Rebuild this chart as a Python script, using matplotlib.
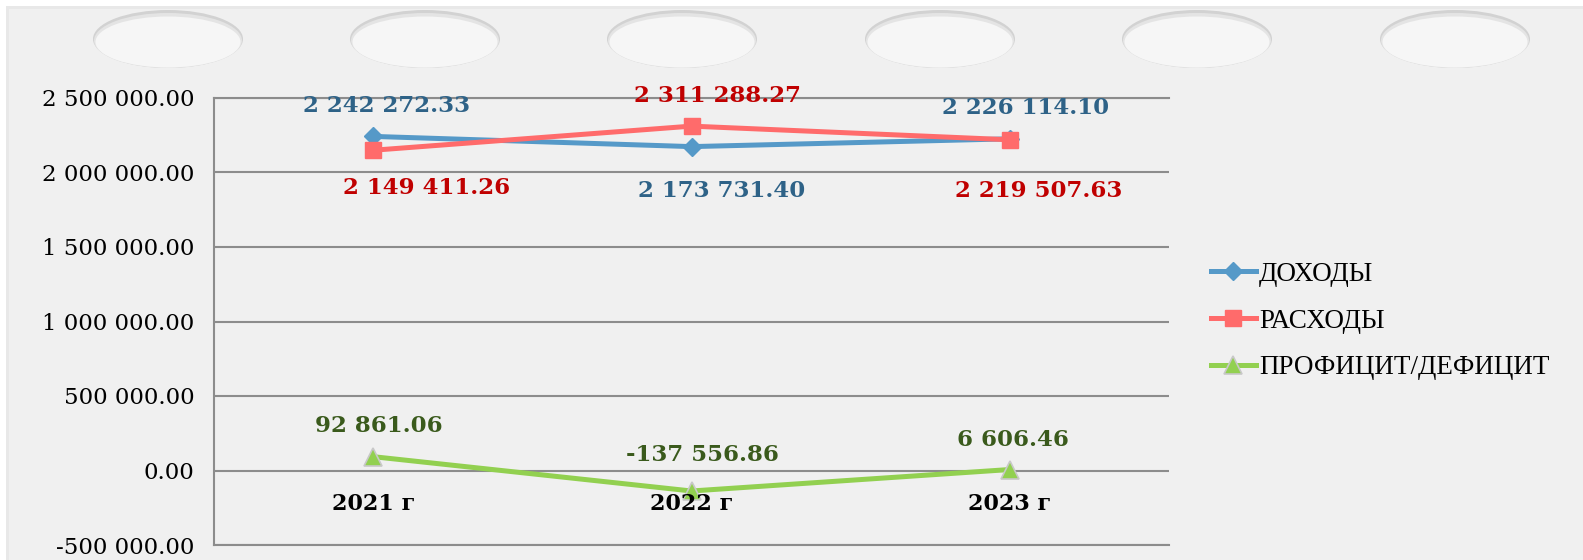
import matplotlib
matplotlib.use("Agg")
import matplotlib.pyplot as plt
from matplotlib.patches import Ellipse, Rectangle
from matplotlib.ticker import FuncFormatter, MultipleLocator

# data
years = ["2021 г", "2022 г", "2023 г"]
income = [2242272.33, 2173731.40, 2226114.10]
expense = [2149411.26, 2311288.27, 2219507.63]
balance = [92861.06, -137556.86, 6606.46]
series_names = ["ДОХОДЫ", "РАСХОДЫ", "ПРОФИЦИТ/ДЕФИЦИТ"]


def fmt(v):
    return f"{v:,.2f}".replace(",", " ")


W, H = 1583, 560
fig = plt.figure(figsize=(W / 100, H / 100), dpi=100)
fig.patch.set_facecolor("white")

# gray panel with soft shadow
fig.patches.append(Rectangle((6 / W, 0), 1, 1 - 6 / H, transform=fig.transFigure,
                             facecolor="#e8e8e8", edgecolor="none", zorder=-3))
fig.patches.append(Rectangle((9 / W, 0), 1, 1 - 9 / H, transform=fig.transFigure,
                             facecolor="#f0f0f0", edgecolor="none", zorder=-3))

# binder holes
hole_x = [168, 425, 682, 940, 1197, 1455]
for hx in hole_x:
    fig.patches.append(Ellipse((hx / W, 1 - 39 / H), 150 / W, 58 / H, transform=fig.transFigure,
                               facecolor="#d2d2d2", edgecolor="none", zorder=-2))
    fig.patches.append(Ellipse((hx / W, 1 - 40.5 / H), 148 / W, 55 / H, transform=fig.transFigure,
                               facecolor="#e4e4e4", edgecolor="none", zorder=-2))
    fig.patches.append(Ellipse((hx / W, 1 - 42 / H), 145 / W, 51 / H, transform=fig.transFigure,
                               facecolor="#f6f6f6", edgecolor="none", zorder=-2))

ax = fig.add_axes([214 / W, 1 - 545 / H, (1169 - 214) / W, (545 - 98) / H])
ax.set_facecolor("none")

x = list(range(len(years)))
ax.plot(x, income, color="#5599c8", lw=3.6, marker="D", ms=9, mec="#5599c8",
        label=series_names[0], zorder=3)
ax.plot(x, expense, color="#ff6b6b", lw=3.6, marker="s", ms=12, mec="#ff6b6b",
        label=series_names[1], zorder=3)
ax.plot(x, balance, color="#92d050", lw=3.6, marker="^", ms=13, mec="#c8c8c8", mew=1.2,
        label=series_names[2], zorder=3)

ax.set_xlim(-0.5, 2.5)
ax.set_ylim(-500000, 2500000)
ax.yaxis.set_major_locator(MultipleLocator(500000))
ax.yaxis.set_major_formatter(FuncFormatter(lambda v, p: fmt(v)))
ax.set_xticks([])
ax.tick_params(axis="y", length=0, pad=14, labelsize=16.5)
for lbl in ax.get_yticklabels():
    lbl.set_family("DejaVu Serif")
ax.grid(axis="y", color="#8c8c8c", lw=1.5)
for s in ["top", "bottom", "right"]:
    ax.spines[s].set_visible(False)
ax.spines["left"].set_color("#8c8c8c")
ax.spines["left"].set_linewidth(1.5)
for yv in [-500000, 2500000]:
    ax.axhline(yv, color="#8c8c8c", lw=1.5, clip_on=False, zorder=1)

# category labels sit under the zero line
for i, yr in enumerate(years):
    ax.annotate(yr, (i, 0), xytext=(0, -34), textcoords="offset pixels",
                ha="center", va="center", fontsize=16, fontweight="bold",
                family="DejaVu Serif", color="black")

# data labels
lab_style = dict(textcoords="offset pixels", ha="center", va="center", fontsize=16.5,
                 fontweight="bold", family="DejaVu Serif", annotation_clip=False)
inc_off = [(13, 30), (30, -44), (16, 31)]
exp_off = [(53, -38), (26, 30), (29, -51)]
bal_off = [(6, 31), (11, 36), (3, 30)]
for i in x:
    ax.annotate(fmt(income[i]), (i, income[i]), xytext=inc_off[i], color="#2e6287", **lab_style)
    ax.annotate(fmt(expense[i]), (i, expense[i]), xytext=exp_off[i], color="#c00000", **lab_style)
    ax.annotate(fmt(balance[i]), (i, balance[i]), xytext=bal_off[i], color="#3a5a1c", **lab_style)

fig.legend(loc="center left", bbox_to_anchor=(1211 / W, 1 - 321 / H), frameon=False,
           prop={"family": "Liberation Serif", "size": 19.5}, handlelength=1.65,
           handletextpad=0.12, labelspacing=0.80, borderpad=0, borderaxespad=0)

fig.savefig("out.png", dpi=100)
